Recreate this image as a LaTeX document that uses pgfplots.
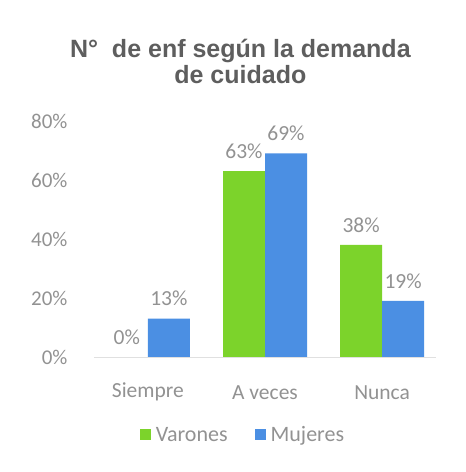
\documentclass[border=0pt]{standalone}
\usepackage{fontspec}
\setmainfont{Carlito}
\newfontfamily\titlefont{Liberation Sans}
\usepackage{pgfplots}
\pgfplotsset{compat=1.18}
\definecolor{varon}{HTML}{7CD32B}
\definecolor{mujer}{HTML}{4B8FE3}
\definecolor{ticktxt}{HTML}{929292}
\definecolor{titletxt}{HTML}{5E5E5E}
\begin{document}
\begin{tikzpicture}
\path (0pt,0pt) rectangle (466pt,472pt);
\begin{axis}[
  at={(94pt,115pt)}, anchor=south west,
  scale only axis, width=342pt, height=236pt,
  ymin=0, ymax=80, xmin=-0.46, xmax=2.46,
  ytick={0,20,40,60,80},
  yticklabel={\pgfmathprintnumber{\tick}\%},
  xtick={0,1,2}, xticklabels={Siempre,A veces,Nunca},
  /pgf/number format/assume math mode=true,
  axis line style={draw=none}, tick style={draw=none},
  yticklabel style={font=\fontsize{21}{21}\selectfont, text=ticktxt, anchor=east, xshift=-23pt},
  xticklabel style={font=\fontsize{21.5}{21.5}\selectfont, text=ticktxt, anchor=center, yshift=-31pt},
  ybar, bar width=42pt, clip=false,
  nodes near coords={\pgfmathprintnumber{\pgfplotspointmeta}\%},
  every node near coord/.append style={font=\fontsize{21.5}{21.5}\selectfont, text=ticktxt, anchor=south, yshift=9pt},
  title={N°\ \ de enf según la demanda\\de cuidado},
  title style={font=\titlefont\bfseries\fontsize{25}{26}\selectfont, text=titletxt, align=center, at={(0.428,1)}, anchor=south, yshift=28pt},
  legend style={at={(0.44,-0.33)}, anchor=center, draw=none, fill=none,
    font=\fontsize{22}{22}\selectfont, text=ticktxt, legend columns=2,
    /tikz/every even column/.append style={column sep=22pt},
    nodes={inner xsep=5pt}},
  legend image code/.code={\fill[#1] (0pt,-5.5pt) rectangle (11pt,5.5pt);},
]
\addplot[fill=varon, draw=none, bar shift=-21pt] coordinates {(0,0) (1,63) (2,38)};
\addplot[fill=mujer, draw=none, bar shift=21pt] coordinates {(0,13) (1,69) (2,19)};
\legend{Varones,Mujeres}
\draw[black!12] (rel axis cs:0,0) -- (rel axis cs:1,0);
\end{axis}
\end{tikzpicture}
\end{document}
